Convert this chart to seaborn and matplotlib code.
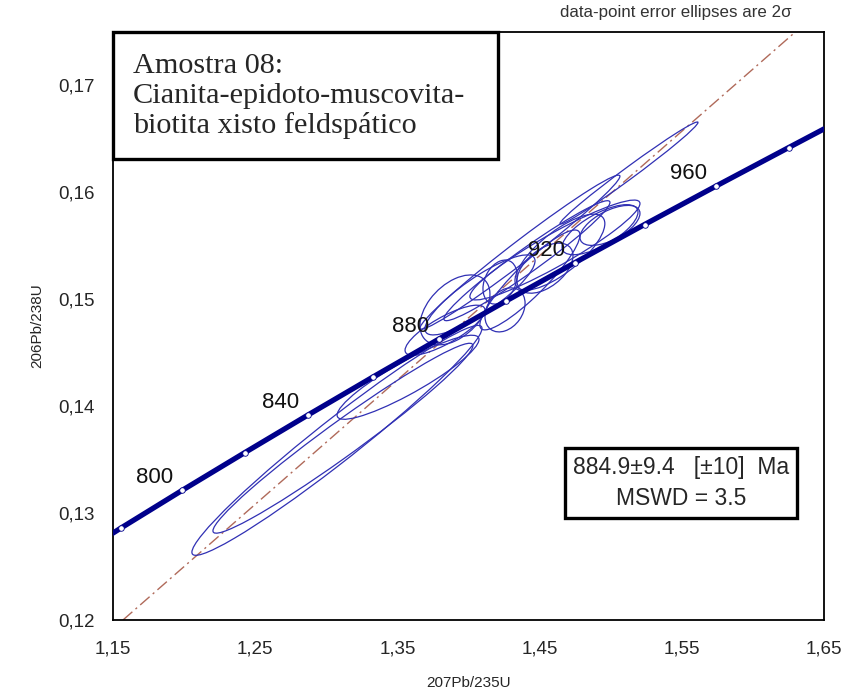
"""
Diagrama concórdia U-Pb (Amostra 08) com elipses de erro 2σ.
"""

import matplotlib

matplotlib.use("Agg")
import matplotlib.pyplot as plt
import numpy as np
import pandas as pd
import seaborn as sns
from matplotlib.patches import Ellipse, Rectangle
from matplotlib.ticker import FixedLocator, FuncFormatter

# --- curva concórdia: pontos marcados a cada 20 Ma ---
idades = [780, 800, 820, 840, 860, 880, 900, 920, 940, 960, 980]
conc_x = [1.1558, 1.1987, 1.2425, 1.2871, 1.3326, 1.3790, 1.4263, 1.4746, 1.5238, 1.5740, 1.6252]
conc_y = [0.12862, 0.13213, 0.13564, 0.13917, 0.14271, 0.14626, 0.14982, 0.15340, 0.15698, 0.16057, 0.16418]
# onde a curva corta as bordas do gráfico
borda_x = [1.150, 1.650]
borda_y = [0.12813, 0.16592]
idades_rotulo = [800, 840, 880, 920, 960]

# --- elipses de erro (centro, erro 2σ em x e y, correlação) ---
elip_x = [1.3075, 1.3117, 1.3575, 1.3905, 1.4222, 1.4257, 1.4362, 1.4411,
          1.5129, 1.4608, 1.4643, 1.4925, 1.4995, 1.4432, 1.4081, 1.4538, 1.3835]
elip_sx = [0.1020, 0.0914, 0.0499, 0.0246, 0.0120, 0.0141, 0.0703, 0.0584,
           0.0485, 0.0598, 0.0316, 0.0267, 0.0211, 0.0352, 0.0387, 0.0197, 0.0281]
elip_y = [0.1368, 0.1370, 0.1427, 0.1490, 0.1516, 0.1490, 0.1544, 0.1536,
          0.1618, 0.1546, 0.1544, 0.1565, 0.1569, 0.1518, 0.1504, 0.1529, 0.1471]
elip_sy = [0.01075, 0.00888, 0.00393, 0.00327, 0.00206, 0.00206, 0.00720, 0.00561,
           0.00477, 0.00467, 0.00355, 0.00234, 0.00187, 0.00467, 0.00374, 0.00234, 0.00234]
elip_rho = [0.973, 0.975, 0.90, 0.45, 0.30, 0.30, 0.985, 0.97,
            0.99, 0.93, 0.75, 0.70, 0.60, 0.90, 0.85, 0.50, 0.80]

# linha de referência traço-ponto
ref_x = [1.157, 1.630]
ref_y = [0.120, 0.175]

# eixos
x_maiores = [1.15, 1.25, 1.35, 1.45, 1.55, 1.65]
x_menores = [1.20, 1.30, 1.40, 1.50, 1.60]
y_maiores = [0.12, 0.13, 0.14, 0.15, 0.16, 0.17]
y_menores = [0.125, 0.135, 0.145, 0.155, 0.165]

titulo = ["Amostra 08:", "Cianita-epidoto-muscovita-", "biotita xisto feldspático"]
resultado = ["884.9\u00b19.4   [\u00b110]  Ma", "MSWD = 3.5"]

AZUL_CONC = "#00008B"
AZUL_ELIP = "#3030b4"


def elipse(ax, x, y, sx, sy, rho):
    cov = np.array([[sx * sx, rho * sx * sy], [rho * sx * sy, sy * sy]])
    vals, vecs = np.linalg.eigh(cov)
    ang = np.degrees(np.arctan2(vecs[1, 1], vecs[0, 1]))
    e = Ellipse((x, y), 2 * np.sqrt(vals[1]), 2 * np.sqrt(vals[0]), angle=ang,
                fill=False, edgecolor=AZUL_ELIP, linewidth=0.9, zorder=3)
    ax.add_patch(e)


def virgula(v, p):
    return f"{v:.2f}".replace(".", ",")


sns.set_style("white")
plt.rcParams["font.family"] = ["Liberation Sans", "DejaVu Sans"]

fig = plt.figure(figsize=(8.47, 6.92), dpi=100)
ax = fig.add_axes([0.1334, 0.104, 0.8394, 0.850])

# linha de referência
ax.plot(ref_x, ref_y, color="#b06a5a", linewidth=1.0, dashes=(9, 3, 1.5, 3), zorder=2)

for x, sx, y, sy, r in zip(elip_x, elip_sx, elip_y, elip_sy, elip_rho):
    elipse(ax, x, y, sx, sy, r)

conc = pd.DataFrame({
    "x": [borda_x[0]] + conc_x + [borda_x[1]],
    "y": [borda_y[0]] + conc_y + [borda_y[1]],
})
sns.lineplot(data=conc, x="x", y="y", ax=ax, color=AZUL_CONC, linewidth=3.8,
             sort=True, zorder=4)
sns.scatterplot(x=conc_x, y=conc_y, ax=ax, s=16, color="white",
                edgecolor=AZUL_CONC, linewidth=0.6, zorder=5)

for idade in idades_rotulo:
    i = idades.index(idade)
    ax.annotate(str(idade), (conc_x[i], conc_y[i]), xytext=(-20, 9),
                textcoords="offset points", ha="center", va="center",
                fontsize=16, color="#111111", zorder=6)

ax.set_xlim(1.15, 1.65)
ax.set_ylim(0.12, 0.175)
ax.xaxis.set_major_locator(FixedLocator(x_maiores))
ax.xaxis.set_minor_locator(FixedLocator(x_menores))
ax.yaxis.set_major_locator(FixedLocator(y_maiores))
ax.yaxis.set_minor_locator(FixedLocator(y_menores))
ax.xaxis.set_major_formatter(FuncFormatter(virgula))
ax.yaxis.set_major_formatter(FuncFormatter(virgula))
ax.tick_params(which="both", direction="in", length=6, width=1, color="black",
               top=False, right=False)
ax.tick_params(axis="x", which="major", labelsize=13.5, pad=15)
ax.tick_params(axis="y", which="major", labelsize=13.5, pad=13)
for s in ax.spines.values():
    s.set_color("black")
    s.set_linewidth(1.3)

ax.set_xlabel("207Pb/235U", fontsize=11, labelpad=13)
ax.set_ylabel("206Pb/238U", fontsize=11, labelpad=10)

# caixa do título
ax.add_patch(Rectangle((0, 0.784), 0.5415, 0.216, transform=ax.transAxes,
                       facecolor="white", edgecolor="black", linewidth=2.4,
                       clip_on=False, zorder=7))
for j, linha in enumerate(titulo):
    ax.text(0.028, 0.930 - j * 0.051, linha, transform=ax.transAxes,
            fontsize=21.8, family="Liberation Serif", va="baseline", ha="left",
            zorder=8)

# caixa do resultado
ax.add_patch(Rectangle((0.6357, 0.1735), 0.3263, 0.119, transform=ax.transAxes,
                       facecolor="white", edgecolor="black", linewidth=2.4,
                       zorder=7))
ax.text(0.799, 0.2585, resultado[0], transform=ax.transAxes, fontsize=16.5,
        ha="center", va="center", zorder=8)
ax.text(0.799, 0.2058, resultado[1], transform=ax.transAxes, fontsize=16.5,
        ha="center", va="center", zorder=8)

fig.text(0.935, 0.982, "data-point error ellipses are 2\u03c3", ha="right",
         va="center", fontsize=12.2, color="#333333")

fig.savefig("out.png", dpi=100)
